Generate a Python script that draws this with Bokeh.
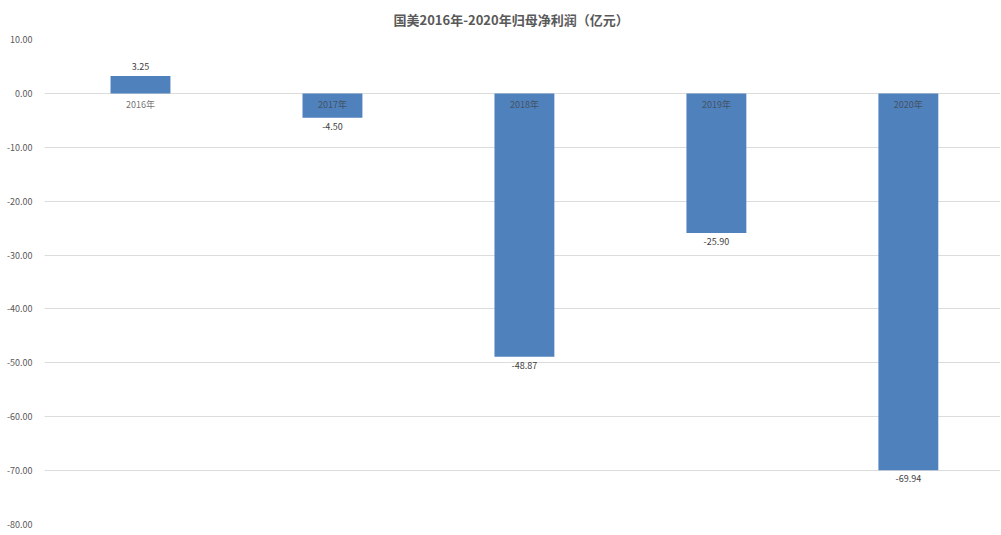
from bokeh.plotting import figure
from bokeh.models import ColumnDataSource, Range1d, PrintfTickFormatter, SingleIntervalTicker
from bokeh.core.properties import value
from bokeh.embed import file_html
from bokeh.resources import INLINE

years = ["2016年", "2017年", "2018年", "2019年", "2020年"]
profits = [3.25, -4.50, -48.87, -25.90, -69.94]
title_text = "国美2016年-2020年归母净利润（亿元）"

FONT = "Noto Sans CJK SC"
idx = list(range(len(years)))
labels = [f"{v:.2f}" for v in profits]

pos = ColumnDataSource(dict(x=[i for i, v in zip(idx, profits) if v >= 0],
                            y=[v for v in profits if v >= 0],
                            t=[l for l, v in zip(labels, profits) if v >= 0]))
neg = ColumnDataSource(dict(x=[i for i, v in zip(idx, profits) if v < 0],
                            y=[v for v in profits if v < 0],
                            t=[l for l, v in zip(labels, profits) if v < 0]))
src = ColumnDataSource(dict(x=idx, top=profits, cat=years,
                            zero=[0] * len(years)))

p = figure(width=1000, height=531, output_backend="svg", toolbar_location=None,
           x_range=Range1d(-0.5, 4.48), y_range=Range1d(-80, 10),
           x_axis_location=None,
           min_border_left=44, min_border_right=0, min_border_bottom=7,
           min_border_top=0)

p.title.text = title_text
p.title.align = "left"
p.title.offset = 349
p.title.vertical_align = "top"
p.title.text_font = FONT
p.title.text_font_size = "13px"
p.title.text_color = "#595959"
p.title.text_font_style = "bold"
p.title.standoff = 18

p.outline_line_color = None
p.background_fill_color = "white"
p.xgrid.grid_line_color = None
p.ygrid.grid_line_color = "#dcdcdc"
p.ygrid.grid_line_width = 1

yax = p.yaxis[0]
yax.ticker = SingleIntervalTicker(interval=10)
yax.formatter = PrintfTickFormatter(format="%.2f")
yax.axis_line_color = None
yax.major_tick_line_color = None
yax.minor_tick_line_color = None
yax.major_label_text_font = FONT
yax.major_label_text_font_size = "9px"
yax.major_label_text_color = "#595959"
yax.major_label_standoff = 6

p.vbar(x="x", top="top", bottom=0, width=0.312, source=src,
       fill_color="#4f81bd", line_color=None)

# category labels at the zero line
p.text(x="x", y="zero", text="cat", source=src, text_font=value(FONT),
       text_font_size="9px", text_color="#404040", text_alpha=0.75,
       text_align="center", text_baseline="top", y_offset=5)

# data labels
p.text(x="x", y="y", text="t", source=pos, text_font=value(FONT),
       text_font_size="9px", text_color="#404040", text_align="center",
       text_baseline="bottom", y_offset=-6)
p.text(x="x", y="y", text="t", source=neg, text_font=value(FONT),
       text_font_size="9px", text_color="#404040", text_align="center",
       text_baseline="top", y_offset=5)

open("out.html", "w").write(file_html(p, INLINE))
